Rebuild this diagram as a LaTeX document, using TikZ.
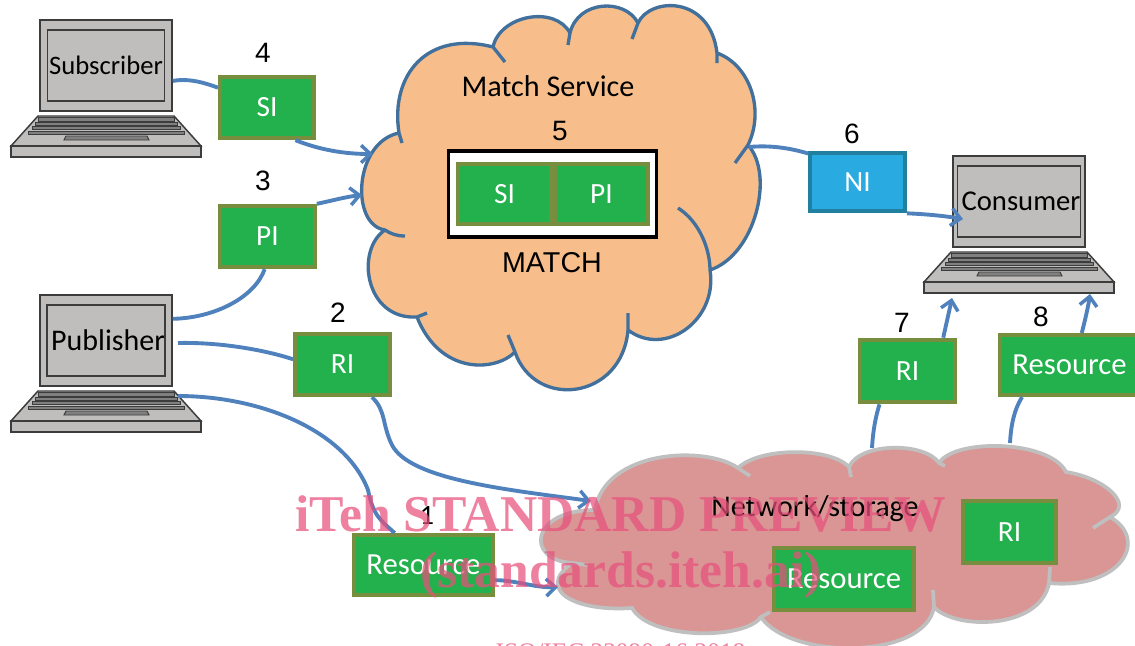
\documentclass[tikz,border=0pt]{standalone}
\usepackage{fontspec}
\setmainfont{Carlito}
\newfontfamily\numfont{Liberation Sans}
\newfontfamily\markfont{Liberation Serif}
\usetikzlibrary{arrows.meta}

\definecolor{boxgreen}{HTML}{23B14D}
\definecolor{boxedge}{HTML}{768E3E}
\definecolor{niblue}{HTML}{29ABE2}
\definecolor{niedge}{HTML}{21809F}
\definecolor{flowblue}{HTML}{4F81BD}
\definecolor{matchfill}{HTML}{F7BE8C}
\definecolor{matchedge}{HTML}{41709C}
\definecolor{netfill}{HTML}{D99694}
\definecolor{netedge}{HTML}{BFBFBF}
\definecolor{laptopgray}{HTML}{BFBEBD}
\definecolor{laptopedge}{HTML}{3C3C3C}
\definecolor{markpink}{HTML}{E8507C}

\tikzset{
  infobox/.style={rectangle, draw=boxedge, fill=boxgreen, line width=3pt, text=white,
    font=\fontsize{22}{22}\selectfont, inner sep=0pt},
  resbox/.style={infobox, font=\fontsize{23}{23}\selectfont},
  nibox/.style={infobox, draw=niedge, fill=niblue},
  numlabel/.style={font=\numfont\fontsize{21}{21}\selectfont, inner sep=0pt},
  cloudlabel/.style={font=\fontsize{22.6}{22.6}\selectfont, inner sep=0pt},
  flow/.style={draw=flowblue, line width=2.9pt},
  flowtip/.style={flow, -{Straight Barb[length=7pt,width=13pt,line width=2.6pt]}},
  lappart/.style={draw=laptopedge, fill=laptopgray, line width=1.1pt},
  markline/.style={text=markpink, text opacity=0.72, inner sep=0pt}
}

% laptop: name, shift x, shift y, text
\newcommand{\laptop}[5][\fontsize{21.5}{21.5}\selectfont]{
  \begin{scope}[shift={(#3,#4)}]
    \node[rectangle, lappart, minimum width=99pt, minimum height=68pt, inner sep=0pt] (#2) at (106,65.5) {};
    \node[rectangle, lappart, minimum width=88pt, minimum height=53pt, inner sep=0pt, font=#1] (#2-screen) at (106,65.5) {#5};
    \draw[lappart] (38,116) -- (174,116) -- (201,146) -- (11,146) -- cycle;
    \draw[lappart] (11,146) rectangle (201,157);
    \foreach \ya/\yb/\xa/\xb in {117/121/38/174, 122/125/35/177, 126/129/32/180, 131/134/28/184}
      \draw[draw=laptopedge, fill=gray, line width=0.7pt] (\xa,\ya) rectangle (\xb,\yb);
    \draw[draw=laptopedge, fill=gray, line width=0.7pt] (66,136) -- (147,136) -- (149,140) -- (64,140) -- cycle;
  \end{scope}
}

\begin{document}
\begin{tikzpicture}[x=0.75pt,y=-0.75pt]
  \useasboundingbox[fill=white] (0,0) rectangle (1135,646);

  % match service cloud
  \path[fill=matchfill] (385,230) .. controls (350,225) and (354,142) .. (399,133)
    .. controls (390,75) and (427,30) .. (493,47)
    .. controls (500,15) and (555,5) .. (570,33)
    .. controls (578,0) and (625,-2) .. (638,23)
    .. controls (650,-3) and (710,-5) .. (717,53)
    .. controls (750,65) and (765,110) .. (748,145)
    .. controls (775,175) and (755,255) .. (710,270)
    .. controls (718,320) and (665,358) .. (628,330)
    .. controls (622,400) and (535,410) .. (515,352)
    .. controls (495,372) and (440,375) .. (417,317)
    .. controls (365,320) and (355,250) .. (385,230) -- cycle;
  \draw[draw=matchedge, line width=2.5pt]
    (405,236) .. controls (397,236) and (391,234) .. (385,230)
    .. controls (350,225) and (354,142) .. (399,133) -- (402,143)
    (399,133) .. controls (390,75) and (427,30) .. (493,47) -- (505,62)
    (493,47) .. controls (500,15) and (555,5) .. (570,33) -- (568,45)
    (570,33) .. controls (578,0) and (625,-2) .. (638,23) -- (632,39)
    (638,23) .. controls (650,-3) and (710,-5) .. (717,53) -- (717,63)
    (717,53) .. controls (750,65) and (765,110) .. (748,145) -- (735,163)
    (748,145) .. controls (775,175) and (755,255) .. (710,270)
    (678,208) .. controls (700,222) and (710,250) .. (710,270)
    .. controls (718,320) and (665,358) .. (628,330) -- (628,313)
    (628,330) .. controls (622,400) and (535,410) .. (515,352) -- (508,335)
    (515,352) .. controls (495,372) and (440,375) .. (417,317) -- (427,313)
    (417,317) .. controls (365,320) and (355,250) .. (385,230);

  % network cloud
  \path[fill=netfill] (595,510) .. controls (605,450) and (705,445) .. (738,468)
    .. controls (760,447) and (830,447) .. (849,467)
    .. controls (860,442) and (925,442) .. (939,463)
    .. controls (955,438) and (1050,440) .. (1066,472)
    .. controls (1105,478) and (1135,505) .. (1110,517)
    .. controls (1150,540) and (1120,590) .. (1049,583)
    .. controls (1040,630) and (955,630) .. (934,607)
    .. controls (925,660) and (790,660) .. (761,617)
    .. controls (745,640) and (650,640) .. (632,608)
    .. controls (575,612) and (535,590) .. (572,563)
    .. controls (525,560) and (530,510) .. (595,510) -- cycle;
  \draw[draw=netedge, line width=2.8pt]
    (595,510) .. controls (605,450) and (705,445) .. (738,468) -- (750,476)
    (738,468) .. controls (760,447) and (830,447) .. (849,467) -- (851,477)
    (849,467) .. controls (860,442) and (925,442) .. (939,463) -- (945,466)
    (939,463) .. controls (955,438) and (1050,440) .. (1066,472)
    .. controls (1105,478) and (1135,505) .. (1110,517) -- (1093,528)
    (1110,517) .. controls (1150,540) and (1120,590) .. (1049,583) -- (1050,567)
    (1049,583) .. controls (1040,630) and (955,630) .. (934,607) -- (933,590)
    (934,607) .. controls (925,660) and (790,660) .. (761,617) -- (770,612)
    (761,617) .. controls (745,640) and (650,640) .. (632,608)
    .. controls (575,612) and (535,590) .. (572,563) -- (588,565)
    (572,563) .. controls (525,560) and (530,510) .. (595,510);

  % laptops
  \laptop[\fontsize{20}{20}\selectfont]{subscriber}{0}{0}{Subscriber}
  \laptop[\fontsize{22.5}{22.5}\selectfont]{publisher}{0}{275}{\hspace{3pt}Publisher}
  \laptop{consumer}{913}{136}{\hspace{3pt}Consumer}

  % info boxes
  \node[infobox, minimum width=70.5pt, minimum height=46pt] (si) at (267,107.5) {SI};
  \node[infobox, minimum width=71pt, minimum height=46pt] (pi) at (267.5,236.5) {PI};
  \node[infobox, minimum width=71pt, minimum height=46pt] (ri) at (342.5,364.5) {RI};
  \node[resbox, minimum width=104pt, minimum height=45pt] (res) at (423.5,565) {Resource};
  \node[nibox, minimum width=71pt, minimum height=44pt] (ni) at (857.5,182) {NI};
  \node[infobox, minimum width=71pt, minimum height=47pt] (consri) at (907.5,371) {RI};
  \node[resbox, minimum width=104pt, minimum height=45pt] (consres) at (1069.5,365) {Resource};
  \node[infobox, minimum width=70pt, minimum height=47pt] (netri) at (1009.5,532) {RI};
  \node[resbox, minimum width=105pt, minimum height=47pt] (netres) at (844,579) {Resource};

  % match box
  \node[rectangle, draw=black, fill=white, line width=2.8pt, minimum width=156pt, minimum height=64pt, inner sep=0pt] (matchbox) at (552.5,194) {};
  \node[infobox, minimum width=70pt, minimum height=45pt] (matchsi) at (504.5,194) {SI};
  \node[infobox, minimum width=70pt, minimum height=45pt] (matchpi) at (601.5,194) {PI};

  % labels
  \node[numlabel] (n4) at (263,53) {4};
  \node[numlabel] (n3) at (263,181) {3};
  \node[numlabel] (n2) at (338,313) {2};
  \node[numlabel] (n5) at (560,131) {5};
  \node[numlabel] (n6) at (852,134) {6};
  \node[numlabel] (n7) at (902,323) {7};
  \node[numlabel] (n8) at (1041,317) {8};
  \node[numlabel, font=\numfont\fontsize{21.5}{21.5}\selectfont] (matchlabel) at (552,263) {MATCH};
  \node[cloudlabel] (servicelabel) at (548,86) {Match Service};
  \node[cloudlabel] (netlabel) at (815,509) {Network/storage};

  % free ends
  \coordinate (matchin1) at (373,154);
  \coordinate (matchin2) at (362,195);
  \coordinate (matchout) at (749,147);
  \coordinate (pubri) at (178,343);
  \coordinate (pubres) at (178,396);
  \coordinate (netin1) at (591,501);
  \coordinate (netin2) at (558,587);
  \coordinate (netout1) at (872,448);
  \coordinate (netout2) at (1010,443);
  \coordinate (consin1) at (963,219);
  \coordinate (consin2) at (952,298);
  \coordinate (consin3) at (1090,294);

  \draw[flow] (subscriber.-13) .. controls (190,78) and (205,83) .. (si.158);
  \draw[flowtip] (si.-49) .. controls (320,150) and (345,154) .. (matchin1);
  \draw[flowtip] (pi.north east) .. controls (335,200) and (345,197) .. (matchin2);
  \draw[flow] (publisher.18) .. controls (215,318) and (255,297) .. (pi.-95);
  \draw[flow] (pubri) .. controls (220,342) and (265,350) .. (ri.174);
  \draw[flowtip] (ri.-48) .. controls (386,410) and (382,425) .. (392,445)
    .. controls (410,480) and (510,490) .. (netin1);
  \draw[flow] (pubres) .. controls (260,396) and (345,430) .. (368,490)
    .. controls (373,515) and (380,520) .. (res.132);
  \draw[flowtip] (res.-12) .. controls (515,580) and (535,588) .. (netin2);
  \draw[flow] (matchout) .. controls (770,145) and (790,148) .. (ni.150);
  \draw[flowtip] (ni.south east) .. controls (925,214) and (945,216) .. (consin1);
  \draw[flow] (netout1) .. controls (873,430) and (876,415) .. (consri.-130);
  \draw[flowtip] (consri.43) .. controls (946,325) and (949,312) .. (consin2);
  \draw[flow] (netout2) .. controls (1011,425) and (1014,410) .. (consres.-146);
  \draw[flowtip] (consres.69) .. controls (1085,320) and (1088,308) .. (consin3);

  % 1 sits on top of the line
  \node[numlabel, font=\fontsize{21}{21}\selectfont] (n1) at (427,515) {1};

  % watermark
  \node[markline, font=\markfont\bfseries\fontsize{38.7}{38.7}\selectfont] (mark1) at (620.5,514) {iTeh STANDARD PREVIEW};
  \node[markline, font=\markfont\bfseries\fontsize{38.7}{38.7}\selectfont] (mark2) at (621,575) {(standards.iteh.ai)};
  \node[markline, font=\markfont\fontsize{19}{19}\selectfont] (mark3) at (620.5,652) {ISO/IEC 23090-16:2018};
\end{tikzpicture}
\end{document}
